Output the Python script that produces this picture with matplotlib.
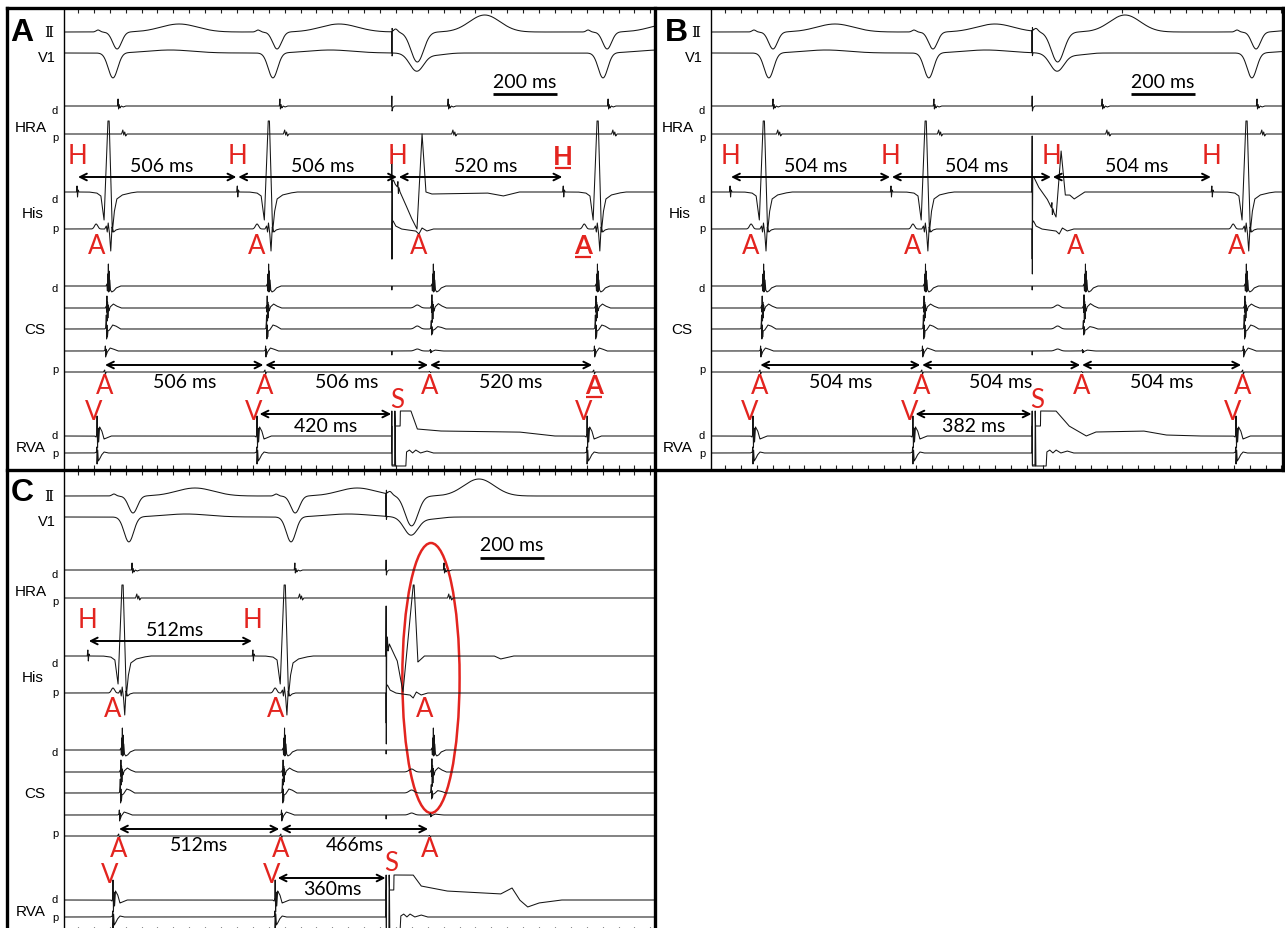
import numpy as np
import matplotlib
matplotlib.use("Agg")
import matplotlib.pyplot as plt
from matplotlib.patches import Ellipse

# ================= DATA (times in ms from the left edge of each tracing) =================
# Panel A
A_H    = [41, 545, 1050, 1570]      # His-bundle deflections (H)
A_AHIS = [101, 607, 1116, 1632]     # atrial deflections on the His catheter
A_ACS  = [138, 642, 1160, 1676]     # atrial deflections on the CS catheter
A_V    = [104, 607, 1645]           # RV apex ventricular electrograms
A_S    = 1031                       # RV stimulus
A_HRA  = [170, 679, 1208, 1711]     # HRA local deflections
A_HH_TXT = ["506 ms", "506 ms", "520 ms"]
A_AA_TXT = ["506 ms", "506 ms", "520 ms"]
A_VS_TXT = "420 ms"
A_EMPH = 3                          # underlined beat

# Panel B
B_H    = [60, 566, 1072, 1575]
B_AHIS = [126, 635, 1145, 1654]
B_ACS  = [164, 673, 1176, 1682]
B_V    = [132, 635, 1651]
B_S    = 1010
B_HRA  = [195, 701, 1230, 1717]
B_HH_TXT = ["504 ms", "504 ms", "504 ms"]
B_AA_TXT = ["504 ms", "504 ms", "504 ms"]
B_VS_TXT = "382 ms"

# Panel C
C_H    = [75, 594]
C_AHIS = [154, 664, 1135]
C_ACS  = [182, 692, 1160]
C_V    = [154, 664]
C_S    = 1013
C_HRA  = [214, 726, 1195]
C_HH_TXT = ["512ms"]
C_AA_TXT = ["512ms", "466ms"]
C_VS_TXT = "360ms"

SCALE_MS = 200
SCALE_TXT = "200 ms"

# ================= layout / style =================
W, H = 1285, 929
PX_PER_MS = 0.318
RED = "#E3241F"
TRACE = "#151515"
BASE_Y = [33, 54, 107, 135, 193, 230, 287, 309, 330, 352, 373, 437, 454]
TXT_FS = 14
RED_FS = 18.5

LAYOUT = {
    "A": dict(left=7, sep=64, right=655, top=9, bottom=471, dy=0, letter=(22, 33), bar_ms=1349),
    "B": dict(left=655, sep=711, right=1283, top=9, bottom=471, dy=0, letter=(676, 33), bar_ms=1321),
    "C": dict(left=7, sep=64, right=655, top=471, bottom=933, dy=464, letter=(22, 493), bar_ms=1308),
}

# waveform templates (relative ms, deflection in px, up = positive)
HRAD_BLIP = [(-2, 0), (0, 7), (1.5, -3), (3.5, 1.5), (6, -2), (10, 0), (16, -1), (24, 0)]
HRAD_STIM = [(-1, 0), (0, 10), (0.75, -5), (3, -1.5), (8, 0)]
HRAP_BLIP = [(-3, 0), (1, 4), (4, -1), (7, 2), (10, -2), (14, 0)]
H_BLIP = [(-2, 0), (0, 6), (1.5, -5), (3.5, 2), (6, 0)]
HISD_V = [(-60, 0), (-35, -1), (-22, -4), (-12, -28), (0, 71), (4, 71), (14, -40), (20, -20),
          (28, -7), (45, -3), (70, -1), (90, 0)]
HISP_V = [(-10, 0), (-5, 3), (-2, -3), (1, 6), (5, -4), (9, -22), (13, 2), (18, -3), (25, -1), (35, 0)]
CS_TPL = [
    [(-6, 0), (-3, 2), (-1.5, -5), (-0.5, 12), (0.5, -3), (1.5, 22), (2.5, -6), (3.5, 15), (4.5, -5),
     (6, 6), (8, -4), (12, -6), (18, -5), (26, -2), (40, 0)],
    [(-5, 0), (-2, 2), (-1, -4), (0, 12), (1, -13), (2, 6), (3, -10), (4.5, 3), (6, -3), (10, 1),
     (20, 4), (30, 2), (45, 0)],
    [(-5, 0), (-2, 1), (-1, 5), (0, 14), (1, -10), (2, 4), (3.5, -8), (5, -2), (10, -1), (20, 4),
     (30, 3), (45, 0)],
    [(-5, 0), (-1, 1), (0, 5), (1, -6), (2, 2), (3, -4), (6, -1), (15, 3), (25, 2), (40, 0)],
    [(-4, 0), (0, 2), (2, -2), (5, 0)],
]
CS_SHIFT = [0, -3, -5, -8, -10]
CS_RETRO_K = [1.0, 1.1, 0.6, 0.3, 0.3]
CS_FAR = [0, 3, 3, 2, 0]
STIM_TICK = [(-1, 0), (0, -4), (1, 0)]
RVAD_V = [(-8, 0), (-3, -1), (-1, 2), (0, 20), (1.5, -12), (3, 8), (5, -6), (8, 9), (15, 5),
          (22, -3), (30, -2), (45, 0)]
RVAP_V = [(-8, 0), (-2, 1), (-1, 6), (0, -11), (2, 3), (4, -8), (8, -6), (14, -2), (22, 1), (35, 0)]
RVAP_PACED = [(-1, 0), (0, 27), (0.5, -13), (10, -13), (10.5, 27), (11.5, -13), (44, -13), (46, 1),
              (55, 3), (65, 0), (75, 3), (90, 0), (110, 2), (130, 0)]
HISP_PACED = [(-1, 0), (0, -30), (0.5, 6), (4, 8), (12, 3), (30, 0), (75, -2), (85, -5), (95, 1),
              (110, -2), (130, 0)]
II_STIM = [(-1, 0), (0, -21), (0.75, 3), (2.5, 0)]
V1_STIM = [(-1, 0), (0, 21), (0.75, -3), (2.5, 0)]
HISD_PACED = {
    "A": [(-1, 0), (0, 43), (0.5, -67), (1.5, 10), (5, 12), (10, 8), (20, 4), (40, -10), (60, -25),
          (79, -37), (95, 58), (107, 0), (125, -2), (300, -1), (350, -4), (400, 0)],
    "B": [(-1, 0), (0, 56), (0.5, -82), (1.5, 15), (5, 15), (20, 5), (47, -7), (75, -25), (91, 41),
          (104, -3), (118, -3), (132, -7), (165, 0)],
    "C": [(-1, 0), (0, 50), (0.5, -88), (1.5, 5), (4, 19), (6, 5), (10, 12), (20, 5), (35, -5),
          (53, -36), (85, 71), (88, 71), (100, -6), (120, 0), (340, 0), (360, -3), (400, 0)],
}
RVAD_PACED = {
    "A": [(-1, 0), (0, 25), (0.5, -29), (9, -29), (9.5, 25), (10.5, 10), (26, 10), (26.5, 25), (60, 25),
          (80, 7), (150, 5), (400, 4), (510, 0)],
    "B": [(-1, 0), (0, 25), (0.5, -29), (9, -29), (9.5, 25), (10.5, 10), (26, 10), (26.5, 25), (75, 25),
          (116, 10), (170, 0), (200, 4), (350, 5), (420, 1), (520, 0)],
    "C": [(-1, 0), (0, 25), (0.5, -29), (9, -29), (9.5, 25), (10.5, 10), (24, 10), (24.5, 25), (85, 25),
          (110, 14), (190, 9), (360, 6), (396, 12), (420, 0), (445, -7), (480, -3), (550, 0)],
}


def g(t, c, a, s):
    return a * np.exp(-0.5 * ((t - c) / s) ** 2)


def kp(t, c, pts, k=1.0):
    p = np.asarray(pts, float)
    return k * np.interp(t - c, p[:, 0], p[:, 1], left=0.0, right=0.0)


def build(t, ev, name):
    s = np.zeros((13, len(t)))
    S = ev["S"]
    retro = min(a for a in ev["ACS"] if a > S)
    # surface ECG
    for v in ev["V"]:
        s[0] += g(t, v + 63, -17, 14) + g(t, v + 3, 2, 6) + g(t, v + 258, 8, 58)
        s[1] += g(t, v + 50, -25, 15) + g(t, v + 230, 3, 70)
    s[0] += kp(t, S, II_STIM) + g(t, S + 12, 3, 6) + g(t, S + 80, -30, 20) + g(t, S + 292, 17, 48)
    s[1] += kp(t, S, V1_STIM) + g(t, S + 78, -18, 22) + g(t, S + 140, -2, 30)
    # HRA
    for h in ev["HRA"]:
        s[2] += kp(t, h, HRAD_BLIP)
        s[3] += kp(t, h + 14, HRAP_BLIP)
    s[2] += kp(t, S, HRAD_STIM)
    # His
    for h in ev["H"]:
        s[4] += kp(t, h, H_BLIP)
    for a in ev["AHIS"]:
        if a < S:
            s[5] += g(t, a, 5, 5)
    for a in ev["ACS"]:
        if a != retro:
            s[4] += kp(t, a, HISD_V)
            s[5] += kp(t, a, HISP_V)
            if a > S:
                s[5] += g(t, a - 40, 5, 5)
    s[4] += kp(t, S, HISD_PACED[name])
    s[4] = np.minimum(s[4], 71)
    s[5] += kp(t, S, HISP_PACED)
    # CS
    for a in ev["ACS"]:
        for j in range(5):
            k = CS_RETRO_K[j] if a == retro else 1.0
            s[6 + j] += kp(t, a + CS_SHIFT[j], CS_TPL[j], k)
    for j in range(5):
        s[6 + j] += g(t, S + 80, CS_FAR[j], 8)
    s[6] += kp(t, S, STIM_TICK)
    s[9] += kp(t, S, STIM_TICK)
    # RVA
    for v in ev["V"]:
        s[11] += kp(t, v, RVAD_V)
        s[12] += kp(t, v, RVAP_V)
    s[11] += kp(t, S, RVAD_PACED[name])
    s[12] += kp(t, S, RVAP_PACED)
    return s


PANELS = {
    "A": dict(H=A_H, AHIS=A_AHIS, ACS=A_ACS, V=A_V, S=A_S, HRA=A_HRA,
              HH=A_HH_TXT, AA=A_AA_TXT, VS=A_VS_TXT, emph=A_EMPH),
    "B": dict(H=B_H, AHIS=B_AHIS, ACS=B_ACS, V=B_V, S=B_S, HRA=B_HRA,
              HH=B_HH_TXT, AA=B_AA_TXT, VS=B_VS_TXT, emph=None),
    "C": dict(H=C_H, AHIS=C_AHIS, ACS=C_ACS, V=C_V, S=C_S, HRA=C_HRA,
              HH=C_HH_TXT, AA=C_AA_TXT, VS=C_VS_TXT, emph=None),
}

fig = plt.figure(figsize=(W / 100, H / 100), dpi=100)
fig.patch.set_facecolor("white")

ANN_FONT = "Lato"
LAB_FONT = ["Liberation Sans", "DejaVu Sans"]


def arrow(ax, x1, x2, y):
    ax.annotate("", xy=(x2, y), xytext=(x1, y),
                arrowprops=dict(arrowstyle="<->", color="black", lw=1.4,
                                shrinkA=0, shrinkB=0, mutation_scale=12))


def red(ax, x, y, s, bold=False):
    ax.text(x, y, s, color=RED, fontsize=RED_FS, ha="center", va="center", family=ANN_FONT,
            fontweight="bold" if bold else "normal")
    if bold:
        ax.plot([x - 25, x + 25], [y + 12, y + 12], color=RED, lw=1.6, solid_capstyle="butt")


for name, ev in PANELS.items():
    lay = LAYOUT[name]
    sep, right, top, bottom, dy = lay["sep"], lay["right"], lay["top"], lay["bottom"], lay["dy"]
    ax = fig.add_axes([sep / W, 1 - bottom / H, (right - sep) / W, (bottom - top) / H])
    ax.set_facecolor("none")
    xmax = (right - sep) / PX_PER_MS
    ax.set_xlim(0, xmax)
    ax.set_ylim(bottom, top)
    for sp in ax.spines.values():
        sp.set_visible(False)
    ax.set_yticks([])
    ax.set_xticks(np.arange(44, xmax, 50))
    ax.tick_params(axis="x", direction="in", top=True, bottom=True, length=3.5, width=0.8,
                   labelbottom=False, labeltop=False, color="#222222")

    t = np.arange(0, xmax, 0.25)
    sig = build(t, ev, name)
    for i, base in enumerate(BASE_Y):
        ax.plot(t, base + dy - sig[i], color=TRACE, lw=0.75, solid_joinstyle="round")

    # scale bar
    b0 = lay["bar_ms"]
    ax.plot([b0, b0 + SCALE_MS], [95 + dy, 95 + dy], color="black", lw=2.0, solid_capstyle="butt")
    ax.text(b0 + SCALE_MS / 2, 82 + dy, SCALE_TXT, fontsize=TXT_FS, family=ANN_FONT,
            ha="center", va="center")

    emph = ev["emph"]
    # His: H-H intervals
    for i, h in enumerate(ev["H"]):
        red(ax, h, 157 + dy, "H", bold=(emph == i))
    for i, lab in enumerate(ev["HH"]):
        h1, h2 = ev["H"][i], ev["H"][i + 1]
        arrow(ax, h1 + 3, h2 - 3, 178 + dy)
        ax.text((h1 + h2) / 2 + 15, 167 + dy, lab, fontsize=TXT_FS, family=ANN_FONT,
                ha="center", va="center")
    for i, a in enumerate(ev["AHIS"]):
        red(ax, a, 246 + dy, "A", bold=(emph == i))
    # CS: A-A intervals
    for i, a in enumerate(ev["ACS"]):
        red(ax, a - 10, 386 + dy, "A", bold=(emph == i))
    for i, lab in enumerate(ev["AA"]):
        a1, a2 = ev["ACS"][i] - 12, ev["ACS"][i + 1] - 12
        arrow(ax, a1 + 3, a2 - 3, 366 + dy)
        ax.text((a1 + a2) / 2, 382 + dy, lab, fontsize=TXT_FS, family=ANN_FONT,
                ha="center", va="center")
    # RVA: V-S
    for v in ev["V"]:
        red(ax, v - 12, 412 + dy, "V")
    S = ev["S"]
    red(ax, S + 16, 400 + dy, "S")
    vprev = max(v for v in ev["V"] if v < S)
    arrow(ax, vprev + 8, S - 2, 415 + dy)
    ax.text((vprev + 8 + S) / 2, 426 + dy, ev["VS"], fontsize=TXT_FS, family=ANN_FONT,
            ha="center", va="center")
    if name == "C":
        retro = min(a for a in ev["ACS"] if a > S)
        ax.add_patch(Ellipse((retro - 6, 215 + dy), 180, 270, fill=False, edgecolor=RED, lw=1.8))

# ---------- overlay: borders and channel labels (pixel coordinates) ----------
ov = fig.add_axes([0, 0, 1, 1], zorder=10)
ov.set_xlim(0, W)
ov.set_ylim(H, 0)
ov.axis("off")
ov.patch.set_alpha(0)
thick = dict(color="black", lw=2.4, solid_capstyle="projecting")
thin = dict(color="black", lw=1.0)
ov.plot([7, 1283], [9, 9], **thick)
ov.plot([7, 1283], [471, 471], **thick)
ov.plot([7, 7], [9, 935], **thick)
ov.plot([655, 655], [9, 935], **thick)
ov.plot([1283, 1283], [9, 471], **thick)
ov.plot([64, 64], [9, 935], **thin)
ov.plot([711, 711], [9, 471], **thin)

for name, lay in LAYOUT.items():
    sep, dy = lay["sep"], lay["dy"]
    lx, ly = lay["letter"]
    ov.text(lx, ly, name, fontsize=23, fontweight="bold", family=LAB_FONT, ha="center", va="center")
    ov.text(sep - 15, 33 + dy, "\u2161", fontsize=11, family="DejaVu Serif", ha="center", va="center")
    ov.text(sep - 17, 58 + dy, "V1", fontsize=10.5, family=LAB_FONT, ha="center", va="center")
    for txt, x, y, fs in [("HRA", sep - 33, 128, 11), ("His", sep - 31, 214, 11),
                          ("CS", sep - 29, 330, 11), ("RVA", sep - 33, 448, 11),
                          ("d", sep - 9, 111, 8), ("p", sep - 9, 138, 8),
                          ("d", sep - 9, 200, 8), ("p", sep - 9, 229, 8),
                          ("d", sep - 9, 289, 8), ("p", sep - 9, 370, 8),
                          ("d", sep - 9, 436, 8), ("p", sep - 9, 454, 8)]:
        ov.text(x, y + dy, txt, fontsize=fs, family=LAB_FONT, ha="center", va="center")

fig.savefig("out.png", dpi=100)
